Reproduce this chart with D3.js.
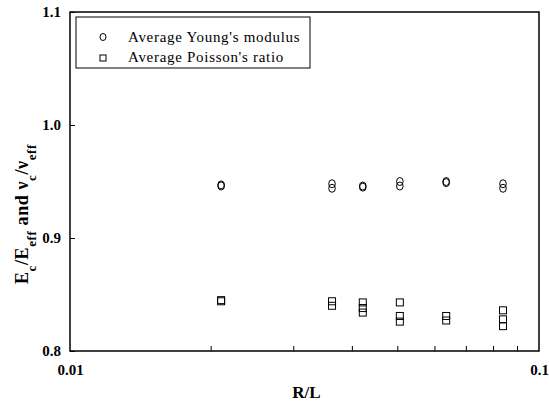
<!DOCTYPE html>
<html><head><meta charset="utf-8">
<script src="https://cdn.jsdelivr.net/npm/d3@7"></script>
<style>body{margin:0;background:#fff}</style>
</head><body>
<svg id="c" width="549" height="414"></svg>
<script>
const youngX = [0.021,0.021,0.0362,0.0362,0.0421,0.0421,0.0505,0.0505,0.0634,0.0634,0.0838,0.0838];
const youngY = [0.946,0.947,0.948,0.944,0.946,0.945,0.950,0.946,0.949,0.950,0.948,0.944];
const poissonX = [0.021,0.021,0.0362,0.0362,0.0421,0.0421,0.0421,0.0505,0.0505,0.0505,0.0634,0.0634,0.0838,0.0838,0.0838];
const poissonY = [0.844,0.845,0.844,0.840,0.843,0.838,0.834,0.843,0.831,0.826,0.831,0.827,0.836,0.828,0.822];
const yTicks = [0.8,0.9,1.0,1.1];
const xTickLabels = [0.01,0.1];
const xMinor = [0.02,0.03,0.04,0.05,0.06,0.07,0.08,0.09];
const legendLabels = ["Average Young's modulus","Average Poisson's ratio"];

const svg = d3.select("#c");
const L=70,R=539,T=12,B=351;
const x = d3.scaleLog().domain([0.01,0.1]).range([L,R]);
const y = d3.scaleLinear().domain([0.8,1.1]).range([B,T]);
const serif = "'Liberation Serif','Times New Roman',serif";

// frame
svg.append("rect").attr("x",L).attr("y",T).attr("width",R-L).attr("height",B-T)
  .attr("fill","none").attr("stroke","#000").attr("stroke-width",1.5);

// y axis
const ya = svg.append("g").attr("transform",`translate(${L},0)`)
  .call(d3.axisLeft(y).tickValues(yTicks).tickFormat(d3.format(".1f")).tickSizeInner(-5).tickSizeOuter(0));
ya.select(".domain").remove();
ya.selectAll("text").attr("x",-9).attr("font-family",serif).attr("font-weight","bold").attr("font-size",15).attr("fill","#000");

// x axis
const xa = svg.append("g").attr("transform",`translate(0,${B})`)
  .call(d3.axisBottom(x).tickValues(xTickLabels).tickFormat(d=>d===0.01?"0.01":"0.1").tickSize(0));
xa.select(".domain").remove();
xa.selectAll("text").attr("y",13).attr("font-family",serif).attr("font-weight","bold").attr("font-size",15).attr("fill","#000");
svg.append("g").selectAll("line").data(xMinor).join("line")
  .attr("x1",d=>x(d)).attr("x2",d=>x(d)).attr("y1",B).attr("y2",B-5).attr("stroke","#000");

// axis titles
svg.append("text").attr("x",(L+R)/2+2).attr("y",398).attr("text-anchor","middle")
  .attr("font-family",serif).attr("font-weight","bold").attr("font-size",17).text("R/L");
const yt = svg.append("text").attr("transform",`translate(28,214) rotate(-90)`).attr("text-anchor","middle")
  .attr("font-family",serif).attr("font-weight","bold").attr("font-size",18).attr("letter-spacing",0.6);
yt.append("tspan").text("E");
yt.append("tspan").attr("baseline-shift","sub").attr("font-size",13).text("c");
yt.append("tspan").text("/E");
yt.append("tspan").attr("baseline-shift","sub").attr("font-size",13).text("eff");
yt.append("tspan").text(" and ν");
yt.append("tspan").attr("baseline-shift","sub").attr("font-size",13).text("c");
yt.append("tspan").text("/ν");
yt.append("tspan").attr("baseline-shift","sub").attr("font-size",13).text("eff");

// data
svg.append("g").selectAll("ellipse").data(youngX.map((d,i)=>[d,youngY[i]])).join("ellipse")
  .attr("cx",d=>x(d[0])).attr("cy",d=>y(d[1])).attr("rx",3.3).attr("ry",4)
  .attr("fill","none").attr("stroke","#000").attr("stroke-width",1);
svg.append("g").selectAll("rect").data(poissonX.map((d,i)=>[d,poissonY[i]])).join("rect")
  .attr("x",d=>x(d[0])-3.5).attr("y",d=>y(d[1])-3.5).attr("width",7).attr("height",7)
  .attr("fill","none").attr("stroke","#000").attr("stroke-width",1);

// legend
svg.append("rect").attr("x",76).attr("y",17).attr("width",234).attr("height",51)
  .attr("fill","#fff").attr("stroke","#000").attr("stroke-width",1);
svg.append("ellipse").attr("cx",103).attr("cy",37).attr("rx",3).attr("ry",3.5).attr("fill","none").attr("stroke","#000");
svg.append("rect").attr("x",100).attr("y",55).attr("width",6).attr("height",6).attr("fill","none").attr("stroke","#000");
svg.selectAll(".lg").data(legendLabels).join("text").attr("class","lg")
  .attr("x",128).attr("y",(d,i)=>42+i*20).attr("font-family",serif).attr("font-size",15).attr("letter-spacing",0.7).text(d=>d);
</script>
</body></html>
